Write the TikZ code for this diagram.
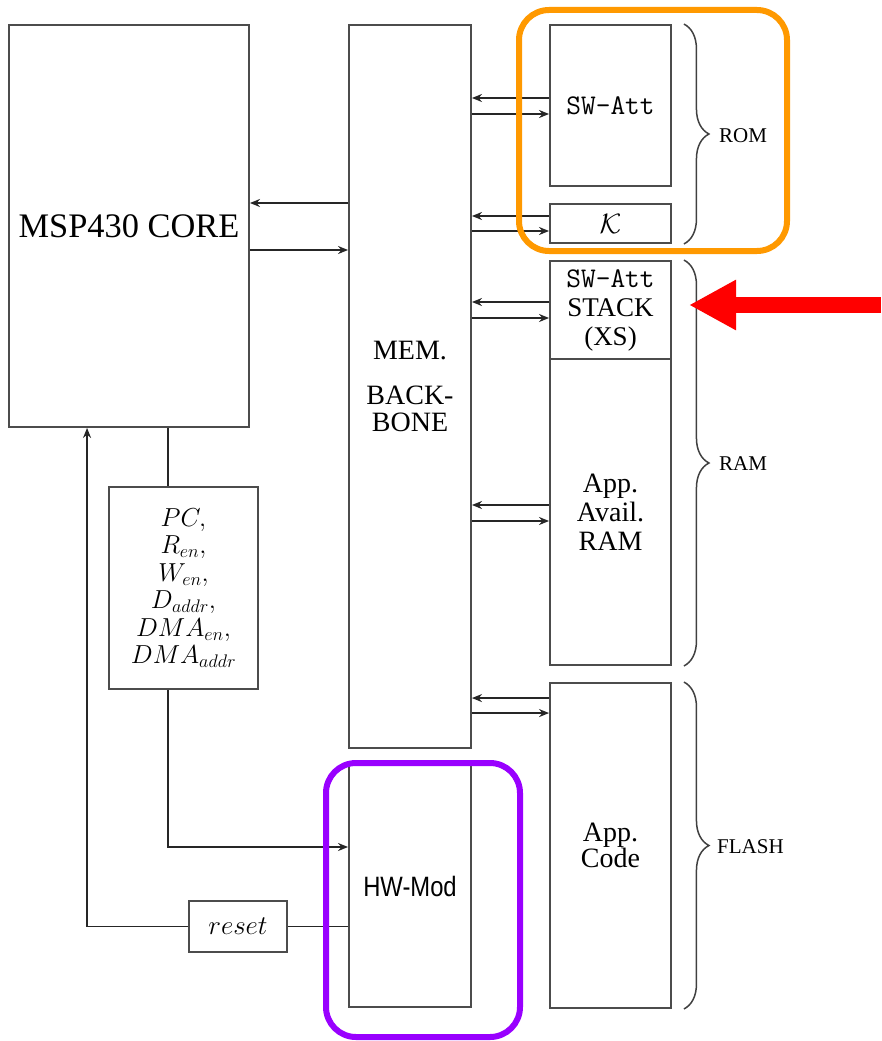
\RequirePackage{fix-cm}
\documentclass[tikz,border=0pt]{standalone}
\usepackage{fontspec}
\setmainfont{Liberation Serif}
\newfontfamily\hwfont{Liberation Sans}
\usetikzlibrary{arrows.meta,calc,decorations.pathreplacing}
\definecolor{hlorange}{HTML}{FF9900}
\definecolor{hlpurple}{HTML}{9900FF}
\begin{document}
\begin{tikzpicture}[x=1pt,y=-1pt,
  box/.style={draw=black!70, line width=1.9pt, inner sep=0pt, align=center, fill=white},
  conn/.style={draw=black!85, line width=1.9pt},
  arr/.style={conn, -{Stealth[length=10pt,width=8pt]}},
  brc/.style={draw=black!75, line width=1.5pt, decorate, decoration={brace, amplitude=25pt}},
  memlabel/.style={anchor=west, inner sep=0pt, font=\fontsize{21}{24}\selectfont},
  memfont/.style={font=\fontsize{28}{29}\selectfont},
  hl/.style={line width=6pt, rounded corners=30pt, inner sep=0pt}
]
\useasboundingbox (0,0) rectangle (881,1041);

% blocks
\node[box, minimum width=240pt, minimum height=402pt, font=\fontsize{34.4}{40}\selectfont] (core) at (129,226) {MSP430 CORE};
\node[box, minimum width=122pt, minimum height=723pt, font=\fontsize{28}{27}\selectfont] (bb) at (410,386.5) {MEM.\\[18pt]BACK-\\BONE};
\node[box, minimum width=121pt, minimum height=161pt, font=\ttfamily\fontsize{28.5}{30}\selectfont] (swatt) at (610.5,105.5) {SW-Att};
\node[box, minimum width=121pt, minimum height=39pt, font=\fontsize{28}{30}\selectfont] (key) at (610.5,223.5) {$\mathcal{K}$};
\node[box, minimum width=121pt, minimum height=98pt, font=\fontsize{27}{29}\selectfont] (stack) at (610.5,310) {{\ttfamily\fontsize{28.5}{29}\selectfont SW-Att}\\STACK\\(XS)};
\node[box, minimum width=121pt, minimum height=306pt, memfont] (avail) at (610.5,512) {App.\\Avail.\\RAM};
\node[box, minimum width=121pt, minimum height=325pt, font=\fontsize{28}{25}\selectfont] (code) at (610.5,845.5) {App.\\Code};
\node[box, minimum width=122pt, minimum height=242pt, font=\hwfont\fontsize{28}{30}\selectfont] (hw) at (410,886) {\scalebox{0.85}[1]{HW-Mod}};
\node[box, minimum width=149pt, minimum height=202pt, font=\fontsize{26}{27.5}\selectfont] (sig) at (183.5,588)
  {$PC,$\\$R_{en},$\\$W_{en},$\\$D_{addr},$\\$DMA_{en},$\\$DMA_{addr}$};
\node[box, minimum width=98pt, minimum height=51pt, font=\fontsize{27}{30}\selectfont] (rst) at (238,926.5) {$reset$};

% core <-> backbone
\coordinate (c1) at ([yshift=23pt]core.east);
\coordinate (c2) at ([yshift=-24pt]core.east);
\draw[arr] (c1 -| bb.west) -- (c1);
\draw[arr] (c2) -- (c2 -| bb.west);

% backbone <-> memories
\foreach \n/\a/\b in {swatt/7.5/-8.5, key/7.5/-7.5, stack/8/-8, avail/7/-9}{
  \coordinate (u) at ([yshift=\a pt]\n.west);
  \coordinate (d) at ([yshift=\b pt]\n.west);
  \draw[arr] (u) -- (u -| bb.east);
  \draw[arr] (d -| bb.east) -- (d);
}
\coordinate (cu) at ([yshift=-16pt]code.north west);
\coordinate (cd) at ([yshift=-31pt]code.north west);
\draw[arr] (cu) -- (cu -| bb.east);
\draw[arr] (cd -| bb.east) -- (cd);

% signals
\coordinate (sx) at ([xshift=160pt]core.south west);
\draw[conn] (sx) -- (sx |- sig.north);
\coordinate (h1) at ([yshift=39pt]hw.west);
\draw[arr] (sx |- sig.south) |- (h1);

% reset
\coordinate (rx) at ([xshift=79pt]core.south west);
\draw[conn] (hw.west |- rst.east) -- (rst.east);
\draw[arr] (rst.west) -| (rx);

% braces
\draw[brc] ([xshift=12pt]swatt.north east) -- ([xshift=12pt]key.south east);
\draw[brc] ([xshift=12pt]stack.north east) -- ([xshift=12pt]avail.south east);
\draw[brc] ([xshift=12pt]code.north east) -- ([xshift=12pt]code.south east);
\node[memlabel] (rom) at ($(swatt.north east)!0.5!(key.south east)+(47,2)$) {ROM};
\node[memlabel] (ram) at ($(stack.north east)!0.5!(avail.south east)+(47,1)$) {RAM};
\node[memlabel] (flash) at ($(code.north east)!0.5!(code.south east)+(45,1)$) {FLASH};

% highlights
\node[hl, draw=hlorange, minimum width=268pt, minimum height=241pt] (romhl) at (653,130.5) {};
\node[hl, draw=hlpurple, minimum width=194pt, minimum height=274pt] (hwhl) at (423,900) {};

% red pointer
\coordinate (redtail) at (881,305);
\coordinate (redtip) at (689,305);
\draw[red, line width=16pt, -{Triangle[length=47pt,width=47pt]}] (redtail) -- (redtip);
\end{tikzpicture}
\end{document}
